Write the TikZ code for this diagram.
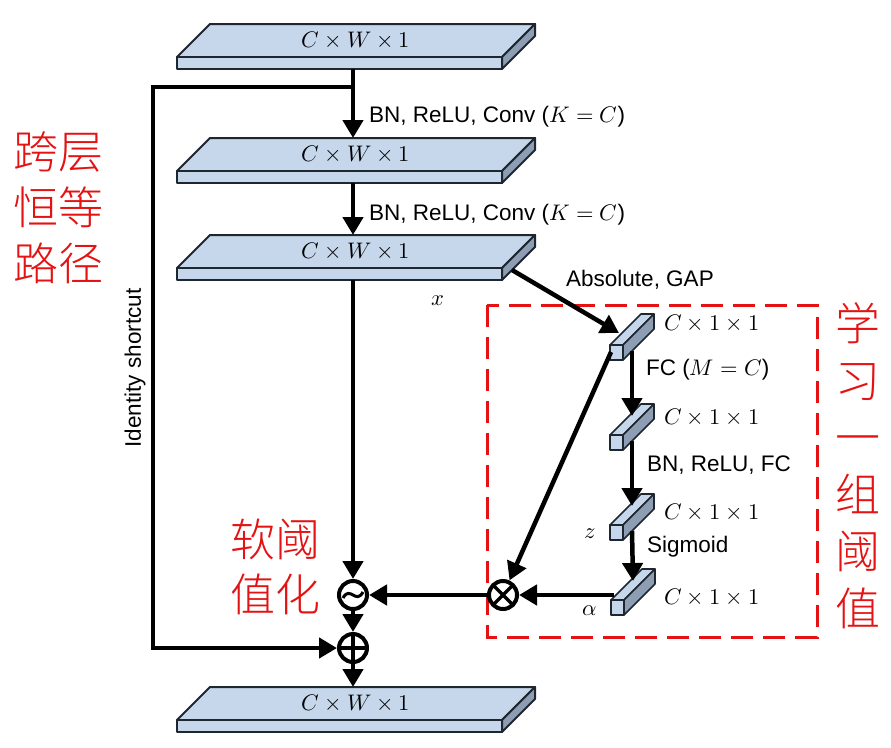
\documentclass[tikz,border=0pt]{standalone}
\usepackage{fontspec}
\usepackage{unicode-math}
\setmainfont{Liberation Sans}
\setmathfont{Latin Modern Math}
\newfontfamily\cjk{Noto Sans CJK SC Light}
\usetikzlibrary{arrows.meta}

\definecolor{slabblue}{RGB}{198,215,236}
\definecolor{slabside}{RGB}{141,157,179}
\definecolor{edgegray}{RGB}{30,38,48}
\definecolor{boxred}{RGB}{228,18,18}

\tikzset{
  slabline/.style={draw=edgegray, line width=2pt, line join=round},
  conn/.style={line width=4.5pt, -{Triangle[length=18pt,width=20pt]}},
  lbl/.style={font=\fontsize{22.5}{26}\selectfont, inner sep=0pt},
  optr/.style={circle, draw, line width=4pt, minimum size=28pt, inner sep=0pt},
  mulop/.style={optr, path picture={
      \draw[line width=3.5pt] (path picture bounding box.north west) -- (path picture bounding box.south east)
        (path picture bounding box.north east) -- (path picture bounding box.south west);}},
  addop/.style={optr, path picture={
      \draw[line width=3.5pt] (path picture bounding box.north) -- (path picture bounding box.south)
        (path picture bounding box.east) -- (path picture bounding box.west);}},
  softop/.style={optr, path picture={
      \draw[line width=3pt] ([shift={(-10,3)}]path picture bounding box.center)
        .. controls ([shift={(-3,-10)}]path picture bounding box.center)
        and ([shift={(3,10)}]path picture bounding box.center)
        .. ([shift={(10,-3)}]path picture bounding box.center);}},
  redbox/.style={draw=boxred, line width=3pt, dash pattern=on 22pt off 10pt},
  cjklbl/.style={text=boxred, align=center, inner sep=0pt},
}

% feature map slab: name, y of front face top
\newcommand{\slab}[2]{%
  \filldraw[slabline, fill=slabblue] (177,#2) -- (210,#2-33) -- (535,#2-33) -- (502,#2) -- cycle;
  \filldraw[slabline, fill=slabblue] (177,#2) rectangle (502,#2+12);
  \filldraw[slabline, fill=slabside] (502,#2) -- (535,#2-33) -- (535,#2-21) -- (502,#2+12) -- cycle;
  \node[lbl] (#1) at (356,#2-17) {$C\times W\times 1$};
  \coordinate (#1-top) at (353,#2-33);
  \coordinate (#1-bot) at (353,#2+12);
  \coordinate (#1-side) at (512,#2+2);
}

% small vector cube: name, x and y of front face top left
\newcommand{\vcube}[3]{%
  \filldraw[slabline, line width=1.6pt, fill=slabblue] (#2,#3) -- (#2+31,#3-31) -- (#2+44,#3-31) -- (#2+13,#3) -- cycle;
  \filldraw[slabline, line width=1.6pt, fill=slabblue] (#2,#3) rectangle (#2+13,#3+15);
  \filldraw[slabline, line width=1.6pt, fill=slabside] (#2+13,#3) -- (#2+44,#3-31) -- (#2+44,#3-16) -- (#2+13,#3+15) -- cycle;
  \coordinate (#1-in) at (#2+22,#3-19);
  \coordinate (#1-out) at (#2+22,#3+6);
  \coordinate (#1-w) at (#2+1,#3+7);
  \coordinate (#1-nw) at (#2+3,#3-5);
  \coordinate (#1-gap) at (#2+9,#3-12);
}

\begin{document}
\begin{tikzpicture}[x=1pt, y=-1pt]
\useasboundingbox (0,0) rectangle (891,747);

% red frame round the threshold branch
\draw[redbox] (487,305) rectangle (817,637);

\slab{s1}{57}
\slab{s2}{171}
\slab{s3}{268}
\slab{s4}{720}

\vcube{c1}{610}{345}
\vcube{c2}{610}{435}
\vcube{c3}{610}{525}
\vcube{c4}{611}{600}

\node[softop] (soft) at (353,595) {};
\node[mulop] (mul) at (503,595) {};
\node[addop] (add) at (353,648) {};

\coordinate (fork) at (353,87);
\coordinate (sc) at (153,648);

\draw[conn] (s1-bot) -- (s2-top);
\draw[conn] (s2-bot) -- (s3-top);
\draw[conn] (s3-bot) -- (soft);
\draw[conn] (s3-side) -- (c1-gap);
\draw[conn] (c1-out) -- (c2-in);
\draw[conn] (c2-out) -- (c3-in);
\draw[conn] (c3-out) -- (c4-in);
\draw[conn] (c1-w) -- (mul);
\draw[conn] (c4-nw) -- (mul);
\draw[conn] (mul) -- (soft);
\draw[conn] (soft) -- (add);
\draw[conn] (add) -- (s4-top);
\draw[conn] (fork) -| (sc) -- (add);

\node[lbl, anchor=west] (bn1) at (369,117) {BN, ReLU, Conv ($K=C$)};
\node[lbl, anchor=west] (bn2) at (369,215) {BN, ReLU, Conv ($K=C$)};
\node[lbl, anchor=west] (gap) at (566,280) {Absolute, GAP};
\node[lbl] (xl) at (438,301) {$x$};
\node[lbl, rotate=90] (idl) at (135,368) {Identity shortcut};

\node[lbl, anchor=west] (d1) at (664,323) {$C\times 1\times 1$};
\node[lbl, anchor=west] (d2) at (664,417) {$C\times 1\times 1$};
\node[lbl, anchor=west] (d3) at (664,512) {$C\times 1\times 1$};
\node[lbl, anchor=west] (d4) at (664,597) {$C\times 1\times 1$};
\node[lbl, anchor=west] (fc1) at (646,370) {FC ($M=C$)};
\node[lbl, anchor=west] (fc2) at (647,465) {BN, ReLU, FC};
\node[lbl, anchor=west] (sig) at (647,547) {Sigmoid};
\node[lbl] (zl) at (590,534) {$z$};
\node[lbl] (al) at (590,611) {$\alpha$};

\node[cjklbl, font=\cjk\fontsize{45}{56}\selectfont] (pathcn) at (58,208) {跨层\\恒等\\路径};
\node[cjklbl, font=\cjk\fontsize{45}{55}\selectfont] (softcn) at (275,567) {软阈\\值化};
\node[cjklbl, font=\cjk\fontsize{45}{57}\selectfont] (learncn) at (858,466) {学\\习\\一\\组\\阈\\值};
\end{tikzpicture}
\end{document}
